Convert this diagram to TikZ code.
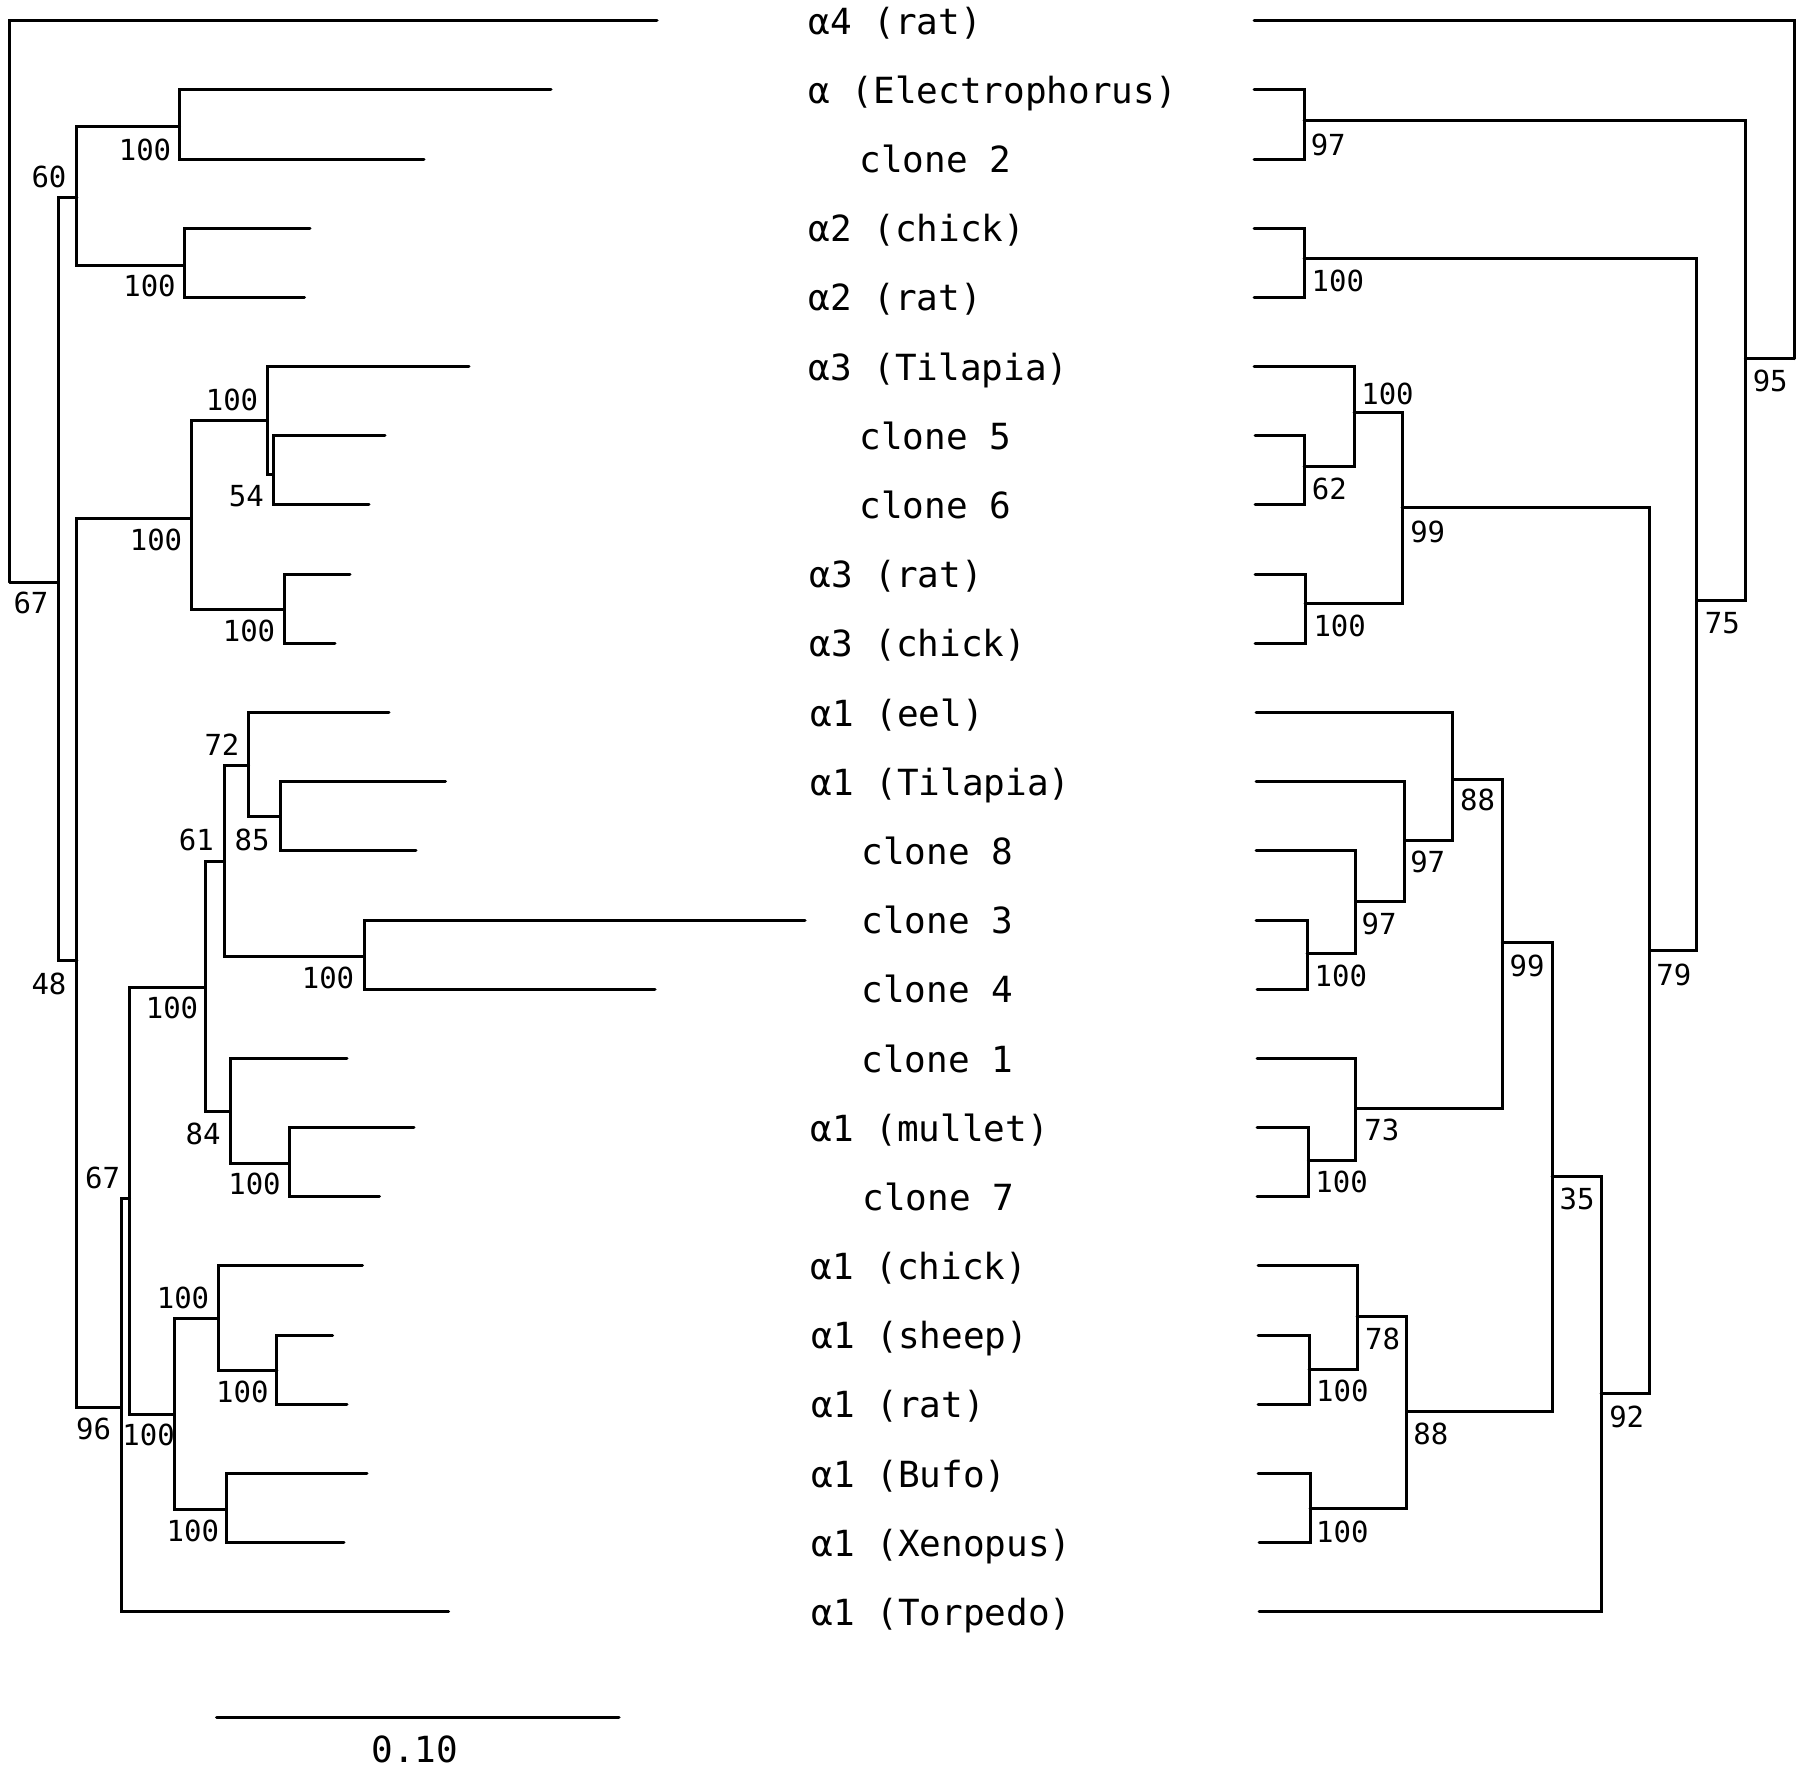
\documentclass[tikz,border=0pt]{standalone}
\usepackage{fontspec}
\usepackage{tikz}
\newfontfamily\plotfont{DejaVu Sans Mono}
\newcommand\taxonsize{\fontsize{18pt}{18pt}\selectfont}
\newcommand\bootsize{\fontsize{14.5pt}{14.5pt}\selectfont}

\begin{document}
\begin{tikzpicture}[x=0.5pt,y=-0.5pt,line width=1.5pt,line cap=round,
      taxon/.style={anchor=base west,yshift=-6.8pt,inner sep=0pt,font=\plotfont\taxonsize},
      boot/.style={inner sep=0pt,font=\plotfont\bootsize},
      clade/.style={to path={|- (\tikztotarget)}}]

    \useasboundingbox (0,0) rectangle (1800,1770);

    \node[taxon] (t1) at (807,20.7) {α4 (rat)};
    \node[taxon] (t2) at (807,89.9) {α (Electrophorus)};
    \node[taxon] (t3) at (858,159.1) {clone 2};
    \node[taxon] (t4) at (807,228.2) {α2 (chick)};
    \node[taxon] (t5) at (807,297.4) {α2 (rat)};
    \node[taxon] (t6) at (807,366.6) {α3 (Tilapia)};
    \node[taxon] (t7) at (858,435.8) {clone 5};
    \node[taxon] (t8) at (858,505.0) {clone 6};
    \node[taxon] (t9) at (808,574.1) {α3 (rat)};
    \node[taxon] (t10) at (808,643.3) {α3 (chick)};
    \node[taxon] (t11) at (809,712.5) {α1 (eel)};
    \node[taxon] (t12) at (809,781.7) {α1 (Tilapia)};
    \node[taxon] (t13) at (860,850.9) {clone 8};
    \node[taxon] (t14) at (860,920.0) {clone 3};
    \node[taxon] (t15) at (860,989.2) {clone 4};
    \node[taxon] (t16) at (860,1058.4) {clone 1};
    \node[taxon] (t17) at (809,1127.6) {α1 (mullet)};
    \node[taxon] (t18) at (861,1196.8) {clone 7};
    \node[taxon] (t19) at (809,1265.9) {α1 (chick)};
    \node[taxon] (t20) at (810,1335.1) {α1 (sheep)};
    \node[taxon] (t21) at (810,1404.3) {α1 (rat)};
    \node[taxon] (t22) at (810,1473.5) {α1 (Bufo)};
    \node[taxon] (t23) at (810,1542.7) {α1 (Xenopus)};
    \node[taxon] (t24) at (810,1611.8) {α1 (Torpedo)};

    % left tree
    \coordinate (l1) at (657,20.7);
    \coordinate (l2) at (551,89.9);
    \coordinate (l3) at (424,159.1);
    \coordinate (l4) at (310,228.2);
    \coordinate (l5) at (304.5,297.4);
    \coordinate (l6) at (469,366.6);
    \coordinate (l7) at (385,435.8);
    \coordinate (l8) at (369,505.0);
    \coordinate (l9) at (350,574.1);
    \coordinate (l10) at (335,643.3);
    \coordinate (l11) at (389,712.5);
    \coordinate (l12) at (445.5,781.7);
    \coordinate (l13) at (416,850.9);
    \coordinate (l14) at (805,920.0);
    \coordinate (l15) at (655,989.2);
    \coordinate (l16) at (347,1058.4);
    \coordinate (l17) at (414,1127.6);
    \coordinate (l18) at (379.5,1196.8);
    \coordinate (l19) at (362.5,1265.9);
    \coordinate (l20) at (332.6,1335.1);
    \coordinate (l21) at (347,1404.3);
    \coordinate (l22) at (367,1473.5);
    \coordinate (l23) at (344,1542.7);
    \coordinate (l24) at (448.6,1611.8);

    \coordinate (lroot) at (9.8,582.2);
    \coordinate (l48) at (58,582.2);
    \coordinate (l60) at (76.8,197.9);
    \coordinate (lE) at (179.5,126.8);
    \coordinate (lA2) at (184,265.2);
    \coordinate (l96) at (76.8,960.4);
    \coordinate (lA3) at (191,518.8);
    \coordinate (lT) at (267,420.8);
    \coordinate (l54) at (273,474.6);
    \coordinate (lR) at (284,609.2);
    \coordinate (l67) at (121.4,1407);
    \coordinate (lX) at (129.5,1198.3);
    \coordinate (lD) at (205,987);
    \coordinate (l61) at (224.5,861.4);
    \coordinate (l72) at (248.6,765.5);
    \coordinate (l85) at (280,816.5);
    \coordinate (l34) at (364,956.6);
    \coordinate (l84) at (230,1111.6);
    \coordinate (lM) at (289,1163.8);
    \coordinate (lY) at (174,1414.2);
    \coordinate (lC) at (218,1318.8);
    \coordinate (lS) at (276.8,1370.1);
    \coordinate (lB) at (226,1509.6);

    \path (lroot) edge[clade] (l1) edge[clade] (l48)
    (l48) edge[clade] (l60) edge[clade] (l96)
    (l60) edge[clade] (lE) edge[clade] (lA2)
    (lE) edge[clade] (l2) edge[clade] (l3)
    (lA2) edge[clade] (l4) edge[clade] (l5)
    (l96) edge[clade] (lA3) edge[clade] (l67)
    (lA3) edge[clade] (lT) edge[clade] (lR)
    (lT) edge[clade] (l6) edge[clade] (l54)
    (l54) edge[clade] (l7) edge[clade] (l8)
    (lR) edge[clade] (l9) edge[clade] (l10)
    (l67) edge[clade] (lX) edge[clade] (l24)
    (lX) edge[clade] (lD) edge[clade] (lY)
    (lD) edge[clade] (l61) edge[clade] (l84)
    (l61) edge[clade] (l72) edge[clade] (l34)
    (l72) edge[clade] (l11) edge[clade] (l85)
    (l85) edge[clade] (l12) edge[clade] (l13)
    (l34) edge[clade] (l14) edge[clade] (l15)
    (l84) edge[clade] (l16) edge[clade] (lM)
    (lM) edge[clade] (l17) edge[clade] (l18)
    (lY) edge[clade] (lC) edge[clade] (lB)
    (lC) edge[clade] (l19) edge[clade] (lS)
    (lS) edge[clade] (l20) edge[clade] (l21)
    (lB) edge[clade] (l22) edge[clade] (l23);

    \node[boot] (bl1) at (31,603) {67};
    \node[boot] (bl2) at (49,176.8) {60};
    \node[boot] (bl3) at (145,149.9) {100};
    \node[boot] (bl4) at (149.5,286.3) {100};
    \node[boot] (bl5) at (232,399.7) {100};
    \node[boot] (bl6) at (246.4,495.7) {54};
    \node[boot] (bl7) at (156,540) {100};
    \node[boot] (bl8) at (249,631) {100};
    \node[boot] (bl9) at (222,744.3) {72};
    \node[boot] (bl10) at (252,839.5) {85};
    \node[boot] (bl11) at (196.4,840.3) {61};
    \node[boot] (bl12) at (49,984.2) {48};
    \node[boot] (bl13) at (328,977.7) {100};
    \node[boot] (bl14) at (172,1008.4) {100};
    \node[boot] (bl15) at (203,1134) {84};
    \node[boot] (bl16) at (254.5,1183.8) {100};
    \node[boot] (bl17) at (102.7,1178.4) {67};
    \node[boot] (bl18) at (93.7,1428.9) {96};
    \node[boot] (bl19) at (148.6,1434.9) {100};
    \node[boot] (bl20) at (183,1297.7) {100};
    \node[boot] (bl21) at (242.4,1392) {100};
    \node[boot] (bl22) at (192.8,1531) {100};

    % scale bar
    \coordinate (s1) at (216.5,1717.2);
    \coordinate (s2) at (619,1717.2);
    \path (s1) edge (s2);
    \node[boot,font=\plotfont\taxonsize] (sl) at (415,1749) {0.10};

    % right tree
    \coordinate (r1) at (1254,20.7);
    \coordinate (r2) at (1254,89.9);
    \coordinate (r3) at (1254,159.1);
    \coordinate (r4) at (1254,228.2);
    \coordinate (r5) at (1254,297.4);
    \coordinate (r6) at (1254,366.6);
    \coordinate (r7) at (1255,435.8);
    \coordinate (r8) at (1255,505.0);
    \coordinate (r9) at (1255,574.1);
    \coordinate (r10) at (1255,643.3);
    \coordinate (r11) at (1256,712.5);
    \coordinate (r12) at (1256,781.7);
    \coordinate (r13) at (1256,850.9);
    \coordinate (r14) at (1256,920.0);
    \coordinate (r15) at (1257,989.2);
    \coordinate (r16) at (1257,1058.4);
    \coordinate (r17) at (1257,1127.6);
    \coordinate (r18) at (1257,1196.8);
    \coordinate (r19) at (1258,1265.9);
    \coordinate (r20) at (1258,1335.1);
    \coordinate (r21) at (1258,1404.3);
    \coordinate (r22) at (1258,1473.5);
    \coordinate (r23) at (1259,1542.7);
    \coordinate (r24) at (1259,1611.8);

    \coordinate (rroot) at (1794,358.6);
    \coordinate (r95) at (1745.3,358.6);
    \coordinate (r97) at (1304,121);
    \coordinate (r75) at (1696.7,600.3);
    \coordinate (rA2) at (1304,259);
    \coordinate (r79) at (1649.5,950);
    \coordinate (r99a) at (1402,507.8);
    \coordinate (rT) at (1354.2,413);
    \coordinate (r62) at (1304,466.3);
    \coordinate (rR3) at (1305,604);
    \coordinate (r92) at (1601,1393);
    \coordinate (r35) at (1552,1176.5);
    \coordinate (r99b) at (1502.3,942.9);
    \coordinate (r88a) at (1452.6,779.5);
    \coordinate (r97a) at (1404.7,840.8);
    \coordinate (r97b) at (1355.8,901.6);
    \coordinate (r34) at (1307,953.3);
    \coordinate (r73) at (1355.8,1108.4);
    \coordinate (rM) at (1308.3,1160);
    \coordinate (r88b) at (1406.7,1411.7);
    \coordinate (r78) at (1357,1316.6);
    \coordinate (rS) at (1309,1369.7);
    \coordinate (rB) at (1310,1508);

    \path (rroot) edge[clade] (r1) edge[clade] (r95)
    (r95) edge[clade] (r97) edge[clade] (r75)
    (r97) edge[clade] (r2) edge[clade] (r3)
    (r75) edge[clade] (rA2) edge[clade] (r79)
    (rA2) edge[clade] (r4) edge[clade] (r5)
    (r79) edge[clade] (r99a) edge[clade] (r92)
    (r99a) edge[clade] (rT) edge[clade] (rR3)
    (rT) edge[clade] (r6) edge[clade] (r62)
    (r62) edge[clade] (r7) edge[clade] (r8)
    (rR3) edge[clade] (r9) edge[clade] (r10)
    (r92) edge[clade] (r35) edge[clade] (r24)
    (r35) edge[clade] (r99b) edge[clade] (r88b)
    (r99b) edge[clade] (r88a) edge[clade] (r73)
    (r88a) edge[clade] (r11) edge[clade] (r97a)
    (r97a) edge[clade] (r12) edge[clade] (r97b)
    (r97b) edge[clade] (r13) edge[clade] (r34)
    (r34) edge[clade] (r14) edge[clade] (r15)
    (r73) edge[clade] (r16) edge[clade] (rM)
    (rM) edge[clade] (r17) edge[clade] (r18)
    (r88b) edge[clade] (r78) edge[clade] (rB)
    (r78) edge[clade] (r19) edge[clade] (rS)
    (rS) edge[clade] (r20) edge[clade] (r21)
    (rB) edge[clade] (r22) edge[clade] (r23);

    \node[boot] (br1) at (1770.2,380.9) {95};
    \node[boot] (br2) at (1328.2,145) {97};
    \node[boot] (br3) at (1722.4,623) {75};
    \node[boot] (br4) at (1337.8,280.7) {100};
    \node[boot] (br5) at (1673.8,975.2) {79};
    \node[boot] (br6) at (1427.7,532.3) {99};
    \node[boot] (br7) at (1387.5,393.5) {100};
    \node[boot] (br8) at (1329.4,488.5) {62};
    \node[boot] (br9) at (1339.7,626.3) {100};
    \node[boot] (br10) at (1626.7,1417.4) {92};
    \node[boot] (br11) at (1577,1198.5) {35};
    \node[boot] (br12) at (1527,965.7) {99};
    \node[boot] (br13) at (1477.5,800.2) {88};
    \node[boot] (br14) at (1427.7,862.3) {97};
    \node[boot] (br15) at (1379,924.3) {97};
    \node[boot] (br16) at (1340.8,976) {100};
    \node[boot] (br17) at (1381.8,1129.9) {73};
    \node[boot] (br18) at (1341.6,1182) {100};
    \node[boot] (br19) at (1430.8,1434) {88};
    \node[boot] (br20) at (1382.5,1338.5) {78};
    \node[boot] (br21) at (1342.4,1391) {100};
    \node[boot] (br22) at (1342.4,1531.7) {100};
\end{tikzpicture}
\end{document}
